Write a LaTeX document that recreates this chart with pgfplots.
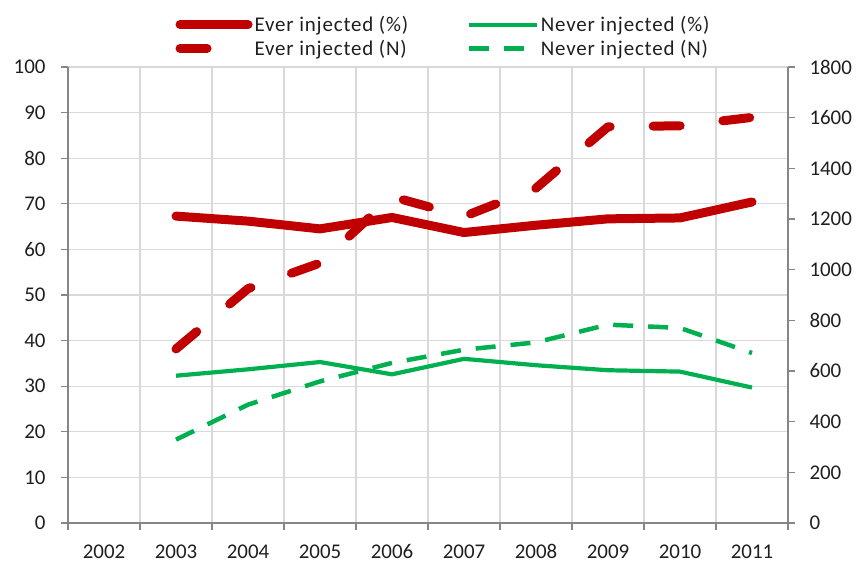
\documentclass[border=0pt]{standalone}
\usepackage{fontspec}
\setmainfont{Carlito}
\newfontfamily\legendfont{Carlito}[LetterSpace=4]
\usepackage{pgfplots}
\pgfplotsset{compat=1.18}
\definecolor{everred}{HTML}{C00000}
\definecolor{nevergreen}{HTML}{00B050}
\definecolor{gridgray}{HTML}{D9D9D9}
\definecolor{axisgray}{HTML}{868686}
\definecolor{labelgray}{HTML}{1F1F1F}
\begin{document}
\begin{tikzpicture}
\useasboundingbox (-68bp,-42bp) rectangle (790bp,523bp);
\pgfplotsset{
 common/.style={
  scale only axis, width=720bp, height=456bp, at={(0,0)}, anchor=south west,
  xmin=-0.5, xmax=9.5, ymin=0,
  font=\fontsize{21}{25}\selectfont,
  /pgf/number format/assume math mode=true,
  /pgf/number format/1000 sep={},
  tick align=outside, major tick length=7bp, minor tick length=7bp,
  every tick/.style={axisgray, line width=1.2bp},
  axis line style={axisgray, line width=1.4bp},
  ticklabel style={text=labelgray},
  legend image code/.code={\draw[##1] (0bp,0bp) -- (68bp,0bp);},
 },
 everpct/.style={everred, line width=9bp, line cap=round, line join=round},
 evern/.style={everred, line width=9bp, line cap=round, line join=round, dash pattern=on 27bp off 43bp},
 neverpct/.style={nevergreen, line width=4.2bp, line join=round},
 nevern/.style={nevergreen, line width=4.5bp, line join=round, dash pattern=on 20bp off 15bp},
}
\begin{axis}[common, ymax=100,
  axis y line*=left, axis x line*=bottom,
  ytick={0,10,...,100},
  yticklabel style={xshift=-12bp},
  xtick={0,...,9}, xticklabels={2002,2003,2004,2005,2006,2007,2008,2009,2010,2011},
  xticklabel style={text height=12bp, text depth=2bp, yshift=-13bp},
  every major x tick/.style={draw=none},
  minor xtick={-0.5,0.5,...,9.5},
  xminorgrids, ymajorgrids,
  major grid style={gridgray, line width=1.2bp},
  minor grid style={gridgray, line width=1.2bp},
]
\addplot[everpct] coordinates {(1,67.3) (2,66.2) (3,64.5) (4,67.0) (5,63.7) (6,65.3) (7,66.7) (8,66.9) (9,70.4)};
\addplot[neverpct] coordinates {(1,32.3) (2,33.7) (3,35.3) (4,32.6) (5,36.0) (6,34.6) (7,33.5) (8,33.2) (9,29.7)};
\end{axis}
\begin{axis}[common, ymax=1800,
  axis y line*=right, axis x line=none,
  ytick={0,200,...,1800},
  yticklabel style={xshift=11bp},
  legend columns=2,
  legend cell align=left,
  legend style={at={(axis description cs:0.5215,1)}, anchor=south, yshift=6bp,
    draw=none, fill=none, font=\legendfont\fontsize{21}{25}\selectfont, text=labelgray,
    /tikz/every even column/.append style={column sep=56bp},
    row sep=3bp},
]
\addlegendimage{everpct}
\addlegendentry{Ever injected (\%)}
\addlegendimage{neverpct}
\addlegendentry{Never injected (\%)}
\addplot[evern] coordinates {(1,687) (2,925) (3,1026) (4,1288) (5,1210) (6,1322) (7,1564) (8,1568) (9,1601)};
\addlegendentry{Ever injected (N)}
\addplot[nevern] coordinates {(1,329) (2,467) (3,559) (4,632) (5,684) (6,713) (7,783) (8,770) (9,671)};
\addlegendentry{Never injected (N)}
\end{axis}
\end{tikzpicture}
\end{document}
